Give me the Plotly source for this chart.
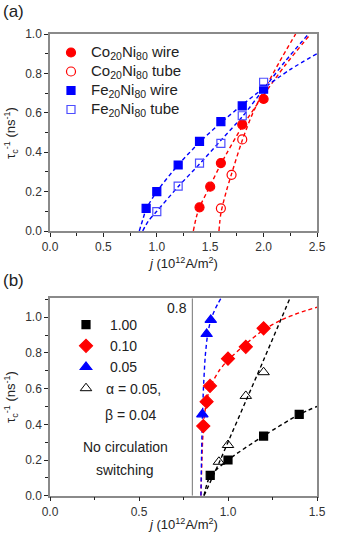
import plotly.graph_objects as go

# ---------------- Panel (a) data ----------------
co_wire_j = [1.4, 1.5, 1.6, 1.8, 2.0]
co_wire_t = [0.12, 0.225, 0.345, 0.54, 0.67]
co_tube_j = [1.6, 1.7, 1.8]
co_tube_t = [0.115, 0.285, 0.465]
fe_wire_j = [0.9, 1.0, 1.2, 1.4, 1.6, 1.8, 2.0]
fe_wire_t = [0.115, 0.2, 0.335, 0.455, 0.555, 0.635, 0.72]
fe_tube_j = [1.0, 1.2, 1.4, 1.6, 1.8, 2.0]
fe_tube_t = [0.098, 0.228, 0.345, 0.445, 0.585, 0.755]

# fit curves
co_wire_fit_j = [1.342, 1.37, 1.4, 1.5, 1.6, 1.8, 2.0, 2.2, 2.44]
co_wire_fit_t = [0.0, 0.07, 0.12, 0.23, 0.34, 0.53, 0.69, 0.84, 1.0]
co_tube_fit_j = [1.582, 1.6, 1.65, 1.7, 1.8, 1.9, 2.0, 2.15, 2.3]
co_tube_fit_t = [0.0, 0.09, 0.2, 0.29, 0.46, 0.6, 0.71, 0.86, 1.0]
fe_wire_fit_j = [0.836, 0.87, 0.9, 1.0, 1.2, 1.4, 1.6, 1.8, 2.0, 2.25, 2.5]
fe_wire_fit_t = [0.0, 0.06, 0.11, 0.2, 0.335, 0.45, 0.55, 0.64, 0.725, 0.82, 0.9]
fe_tube_fit_j = [0.868, 0.92, 1.0, 1.2, 1.4, 1.6, 1.8, 2.0, 2.2, 2.42]
fe_tube_fit_t = [0.0, 0.05, 0.1, 0.225, 0.34, 0.46, 0.58, 0.72, 0.86, 1.0]

# ---------------- Panel (b) data ----------------
b100_j = [0.9, 1.0, 1.2, 1.4]
b100_t = [0.114, 0.2, 0.334, 0.456]
b010_j = [0.861, 0.88, 0.899, 1.0, 1.1, 1.2]
b010_t = [0.39, 0.527, 0.615, 0.768, 0.834, 0.938]
b005_j = [0.856, 0.88, 0.903]
b005_t = [0.456, 0.906, 0.985]
bab_j = [0.949, 1.0, 1.1, 1.2]
bab_t = [0.19, 0.284, 0.559, 0.692]

b100_fit_j = [0.865, 0.88, 0.9, 1.0, 1.2, 1.4, 1.5]
b100_fit_t = [0.0, 0.06, 0.11, 0.2, 0.335, 0.455, 0.5]
b010_fit_j = [0.848, 0.852, 0.857, 0.866, 0.88, 0.9, 0.95, 1.0, 1.1, 1.2, 1.3, 1.4, 1.5]
b010_fit_t = [0.0, 0.15, 0.3, 0.44, 0.53, 0.61, 0.7, 0.76, 0.85, 0.93, 0.985, 1.025, 1.056]
b005_fit_j = [0.848, 0.851, 0.855, 0.862, 0.872, 0.885, 0.903, 0.93, 0.96]
b005_fit_t = [0.0, 0.2, 0.4, 0.6, 0.78, 0.9, 0.985, 1.05, 1.106]
bab_fit_j = [0.865, 0.95, 1.0, 1.1, 1.2, 1.348]
bab_fit_t = [0.0, 0.185, 0.3, 0.53, 0.76, 1.106]

threshold_j = 0.8

x_ticks_a = [0.0, 0.5, 1.0, 1.5, 2.0, 2.5]
y_ticks_a = [0.0, 0.2, 0.4, 0.6, 0.8, 1.0]
x_ticks_b = [0.0, 0.5, 1.0, 1.5]
y_ticks_b = [0.0, 0.2, 0.4, 0.6, 0.8, 1.0]

RED = "#ff0000"
BLUE = "#0000ff"
LBLUE = "#4d4dff"
FONT = "Liberation Sans, Arial, sans-serif"
DASH = "4px,3px"

fig = go.Figure()

def fit(xs, ys, color, xa, ya, smooth=0.8):
    fig.add_trace(go.Scatter(x=xs, y=ys, mode="lines", xaxis=xa, yaxis=ya,
                             line=dict(color=color, width=1.4, dash=DASH, shape="spline", smoothing=smooth),
                             showlegend=False, hoverinfo="skip"))

# panel a fits
fit(co_wire_fit_j, co_wire_fit_t, RED, "x", "y")
fit(co_tube_fit_j, co_tube_fit_t, RED, "x", "y")
fit(fe_wire_fit_j, fe_wire_fit_t, BLUE, "x", "y")
fit(fe_tube_fit_j, fe_tube_fit_t, BLUE, "x", "y")

def pts(xs, ys, name, symbol, color, size, xa, ya, legend, lw=1.2, group=None):
    fig.add_trace(go.Scatter(x=xs, y=ys, mode="markers", name=name, xaxis=xa, yaxis=ya,
                             marker=dict(symbol=symbol, color=color, size=size,
                                         line=dict(color=color, width=lw)),
                             legend=legend, legendgroup=group or name))

def big(s):
    return f'<span style="font-size:15px">{s}</span>'

pts(co_wire_j, co_wire_t, big("Co<sub>20</sub>Ni<sub>80</sub> wire"), "circle", RED, 9, "x", "y", "legend")
pts(co_tube_j, co_tube_t, big("Co<sub>20</sub>Ni<sub>80</sub> tube"), "circle-open", RED, 9, "x", "y", "legend")
pts(fe_wire_j, fe_wire_t, big("Fe<sub>20</sub>Ni<sub>80</sub> wire"), "square", BLUE, 8, "x", "y", "legend")
pts(fe_tube_j, fe_tube_t, big("Fe<sub>20</sub>Ni<sub>80</sub> tube"), "square-open", LBLUE, 8, "x", "y", "legend")

# panel b
fig.add_trace(go.Scatter(x=[threshold_j, threshold_j], y=[0, 1.106], mode="lines", xaxis="x2", yaxis="y2",
                         line=dict(color="#8c8c8c", width=1.2), showlegend=False, hoverinfo="skip"))
fit(b100_fit_j, b100_fit_t, "#000000", "x2", "y2")
fit(bab_fit_j, bab_fit_t, "#000000", "x2", "y2")
fit(b010_fit_j, b010_fit_t, RED, "x2", "y2", 0.6)
fit(b005_fit_j, b005_fit_t, BLUE, "x2", "y2", 0.6)

pts(b100_j, b100_t, "\u00a01.00", "square", "#000000", 8, "x2", "y2", "legend2")
pts(b010_j, b010_t, "\u00a00.10", "diamond", RED, 10, "x2", "y2", "legend2")
pts(b005_j, b005_t, "\u00a00.05", "triangle-up", BLUE, 10, "x2", "y2", "legend2")
pts(bab_j, bab_t, "α = 0.05,", "triangle-up-open", "#000000", 10, "x2", "y2", "legend2", lw=1.0)

W, H = 339, 536
def px(v): return v / W
def py(v): return 1 - v / H

xdom = [px(50), px(317)]
ydom_a = [py(231), py(34)]
ydom_b = [py(495.7), py(298.3)]

axcol = "#8a8a8a"
tickfont = dict(family=FONT, size=12, color="#333333")

def base_x(rng, ticks, dom, anchor, minor_d):
    return dict(domain=dom, range=rng, anchor=anchor, tickvals=ticks, automargin=False,
                ticktext=[f"{t:.1f}" for t in ticks], ticks="outside", ticklen=4, tickwidth=1,
                tickcolor="#222222", showline=True, linecolor=axcol, linewidth=1.5, mirror=True,
                showgrid=False, zeroline=False, tickfont=tickfont, fixedrange=True,
                minor=dict(dtick=minor_d, tick0=0, ticks="outside", ticklen=3, tickcolor="#222222", showgrid=False))

def overlay(rng, ticks, dom, anchor, over, side, minor_d):
    return dict(domain=dom, range=rng, anchor=anchor, overlaying=over, side=side, tickvals=ticks,
                automargin=False,
                showticklabels=False, ticks="inside", ticklen=4, tickwidth=1, tickcolor="#222222",
                showline=False, showgrid=False, zeroline=False, fixedrange=True,
                minor=dict(dtick=minor_d, tick0=0, ticks="inside", ticklen=3, tickcolor="#222222", showgrid=False))

layout = dict(
    width=W, height=H, margin=dict(l=0, r=0, t=0, b=0, autoexpand=False),
    paper_bgcolor="white", plot_bgcolor="white", showlegend=True,
    font=dict(family=FONT, size=14, color="#222222"),
    xaxis=base_x([0, 2.5], x_ticks_a, xdom, "y", 0.25),
    yaxis=dict(base_x([0, 1.0], y_ticks_a, ydom_a, "x", 0.1), domain=ydom_a),
    xaxis2=base_x([0, 1.5], x_ticks_b, xdom, "y2", 0.25),
    yaxis2=dict(base_x([0, 1.106], y_ticks_b, ydom_b, "x2", 0.1), domain=ydom_b),
    xaxis3=overlay([0, 2.5], x_ticks_a, xdom, "y", "x", "top", 0.25),
    yaxis3=overlay([0, 1.0], y_ticks_a, ydom_a, "x", "y", "right", 0.1),
    xaxis4=overlay([0, 1.5], x_ticks_b, xdom, "y2", "x2", "top", 0.25),
    yaxis4=overlay([0, 1.106], y_ticks_b, ydom_b, "x2", "y2", "right", 0.1),
    legend=dict(x=px(51), y=py(38), xanchor="left", yanchor="top", bgcolor="rgba(0,0,0,0)",
                font=dict(family=FONT, size=12, color="#222222"), tracegroupgap=0, itemwidth=30),
    legend2=dict(x=px(66), y=py(309), xanchor="left", yanchor="top", bgcolor="rgba(0,0,0,0)",
                 font=dict(family=FONT, size=14, color="#222222"), tracegroupgap=0, itemwidth=30,
                 valign="top"),
)
fig.update_layout(**layout)

ann = []
def text(x, y, s, size=14, angle=0, xanchor="center"):
    ann.append(dict(x=px(x), y=py(y), xref="paper", yref="paper", text=s, showarrow=False,
                    font=dict(family=FONT, size=size, color="#222222"), textangle=angle,
                    xanchor=xanchor, yanchor="middle"))

text(13, 12, "(a)", 17)
text(13, 280, "(b)", 17)
ytitle = "τ<sub>c</sub><sup>-1</sup> (ns<sup>-1</sup>)"
xtitle = "<i>j</i> (10<sup>12</sup>A/m<sup>2</sup>)"
text(11, 133, ytitle, 13, -90)
text(11, 397, ytitle, 13, -90)
text(183, 263, xtitle, 13)
text(183, 524, xtitle, 13)
text(189, 308, "0.8", 14, xanchor="right")
text(103, 415, "β = 0.04", 14, xanchor="left")
text(125, 447, "No circulation", 14)
text(125, 470, "switching", 14)
fig.update_layout(annotations=ann)

fig.write_html("out.html", config={"displayModeBar": False},
               post_script="document.body.style.margin='0px';document.body.style.padding='0px';")
